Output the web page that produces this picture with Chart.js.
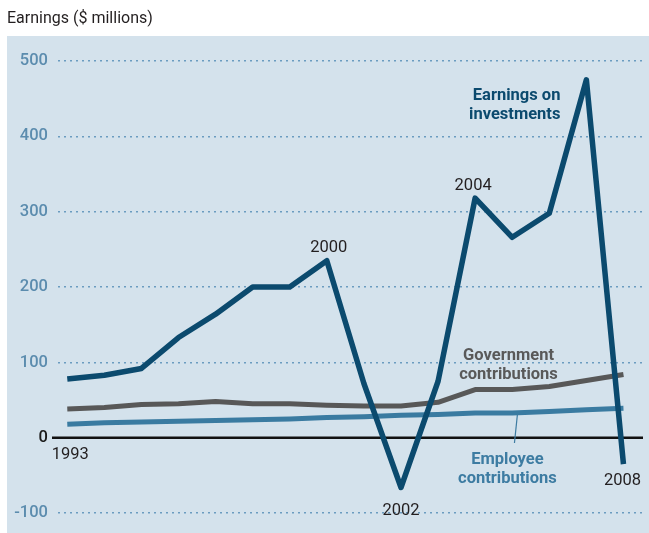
<!DOCTYPE html>
<html>
<head>
<meta charset="utf-8">
<script src="https://cdn.jsdelivr.net/npm/chart.js@4"></script>
<style>
  html, body { margin: 0; padding: 0; background: #fff; }
  #wrap { width: 649px; height: 533px; }
</style>
</head>
<body>
<div id="wrap"><canvas id="earningsChart"></canvas></div>
<script>
const years = [1993, 1994, 1995, 1996, 1997, 1998, 1999, 2000, 2001, 2002, 2003, 2004, 2005, 2006, 2007, 2008];
const investmentEarnings = [78, 83, 92, 133, 164, 200, 200, 235, 72, -66, 75, 318, 266, 298, 475, -35];
const governmentContributions = [38, 40, 44, 45, 48, 45, 45, 43, 42, 42, 47, 64, 64, 68, 76, 84];
const employeeContributions = [18, 20, 21, 22, 23, 24, 25, 27, 28, 30, 31, 33, 33, 35, 37, 39];
const yTicks = [-100, 0, 100, 200, 300, 400, 500];
const yearCallouts = [1993, 2000, 2002, 2004, 2008];

const FONT = "Roboto, 'Liberation Sans', sans-serif";
const BLUE_TEXT = '#5b8cae';

function points(values) {
    return values.map((v, i) => ({ x: years[i], y: v }));
}

// background panel, title, zero line and the text callouts
const decorations = {
    id: 'decorations',
    beforeDraw(chart) {
        const c = chart.ctx;
        c.save();
        c.fillStyle = '#d4e2ec';
        c.fillRect(7, 36, chart.width - 7, chart.height - 36);
        c.fillStyle = '#231f20';
        c.font = '16px ' + FONT;
        c.textBaseline = 'middle';
        c.fillText('Earnings ($ millions)', 7, 19);
        c.restore();
    },
    beforeDatasetsDraw(chart) {
        const c = chart.ctx;
        const y0 = chart.scales.y.getPixelForValue(0);
        c.save();
        c.strokeStyle = '#111';
        c.lineWidth = 2.6;
        c.beginPath();
        c.moveTo(chart.chartArea.left - 6, y0);
        c.lineTo(chart.chartArea.right + 1, y0);
        c.stroke();
        c.restore();
    },
    afterDatasetsDraw(chart) {
        const c = chart.ctx;
        const xs = chart.scales.x, ys = chart.scales.y;
        const px = v => xs.getPixelForValue(v);
        const py = v => ys.getPixelForValue(v) + 3;
        c.save();
        c.textBaseline = 'middle';

        // year callouts next to the investment line
        c.fillStyle = '#231f20';
        c.font = '16.5px ' + FONT;
        c.textAlign = 'center';
        const offsets = { 1993: [3, 14], 2000: [2, -16], 2002: [0, 20], 2004: [-2, -15], 2008: [-1, 14] };
        yearCallouts.forEach(yr => {
            const i = years.indexOf(yr);
            const [dx, dy] = offsets[yr];
            const base = yr === 1993 ? py(0) : py(investmentEarnings[i]);
            c.fillText(String(yr), px(yr) + dx, base + dy);
        });

        // series labels
        c.font = 'bold 16.5px ' + FONT;
        c.fillStyle = '#0b4a6e';
        c.textAlign = 'right';
        c.fillText('Earnings on', px(2006.3), py(458));
        c.fillText('investments', px(2006.3), py(433));

        c.fillStyle = '#595959';
        c.textAlign = 'center';
        c.fillText('Government', px(2004.9), py(113));
        c.fillText('contributions', px(2004.9), py(88));

        c.fillStyle = '#3d7ca2';
        c.fillText('Employee', px(2004.87), py(-26));
        c.fillText('contributions', px(2004.87), py(-50));

        c.strokeStyle = '#3d7ca2';
        c.lineWidth = 1.2;
        c.beginPath();
        c.moveTo(px(2005.06), ys.getPixelForValue(-7));
        c.lineTo(px(2005.14), ys.getPixelForValue(31));
        c.stroke();
        c.restore();
    }
};

new Chart(document.getElementById('earningsChart'), {
    type: 'line',
    data: {
        datasets: [
            {
                label: 'Earnings on investments',
                data: points(investmentEarnings),
                borderColor: '#0b4a6e',
                borderWidth: 5.5
            },
            {
                label: 'Government contributions',
                data: points(governmentContributions),
                borderColor: '#585858',
                borderWidth: 5
            },
            {
                label: 'Employee contributions',
                data: points(employeeContributions),
                borderColor: '#3a7ba1',
                borderWidth: 5
            }
        ]
    },
    options: {
        responsive: true,
        maintainAspectRatio: false,
        animation: false,
        layout: { padding: { left: 8, top: 61, right: 7, bottom: 18 } },
        elements: {
            point: { radius: 0 },
            line: { tension: 0, borderJoinStyle: 'round', borderCapStyle: 'butt' }
        },
        plugins: {
            legend: { display: false },
            tooltip: { enabled: false }
        },
        scales: {
            x: {
                type: 'linear',
                display: false,
                min: 1992.75,
                max: 2008.5
            },
            y: {
                min: -100,
                max: 500,
                afterFit(scale) { scale.width = 50; },
                afterBuildTicks(scale) { scale.ticks = yTicks.map(v => ({ value: v })); },
                border: { display: false, dash: [2, 4] },
                grid: {
                    drawTicks: false,
                    lineWidth: 1.5,
                    color: ctx => ctx.tick && ctx.tick.value === 0 ? 'rgba(0,0,0,0)' : '#6b9cc0'
                },
                ticks: {
                    padding: 10,
                    font: { family: FONT, size: 16.5, weight: '500' },
                    color: ctx => ctx.tick && ctx.tick.value === 0 ? '#1a1a1a' : BLUE_TEXT
                }
            }
        }
    },
    plugins: [decorations]
});
</script>
</body>
</html>
